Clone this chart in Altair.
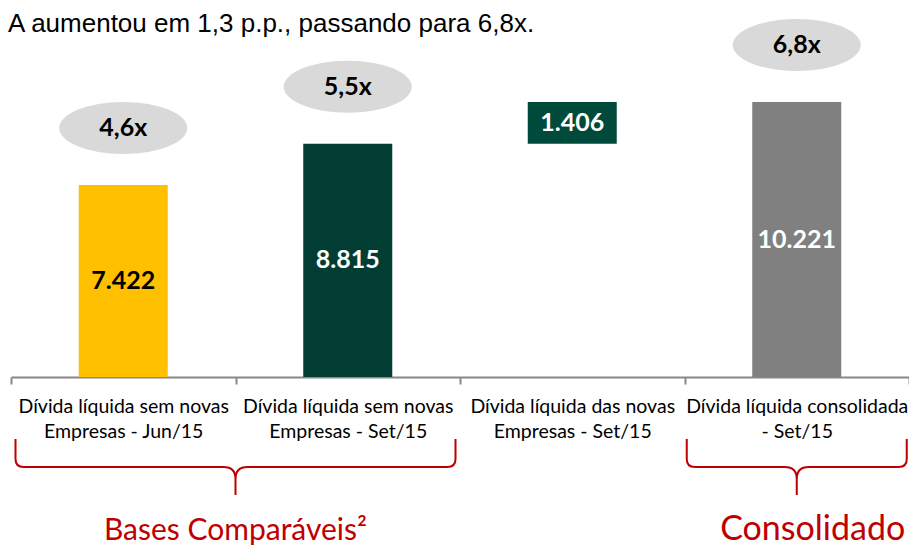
import altair as alt
import pandas as pd

# ---- data ----
categories = [
    "Dívida líquida sem novas|Empresas - Jun/15",
    "Dívida líquida sem novas|Empresas - Set/15",
    "Dívida líquida das novas|Empresas - Set/15",
    "Dívida líquida consolidada|- Set/15",
]
bar_start = [0, 0, 8815, 0]
bar_end = [7422, 8815, 10221, 10221]
value_labels = ["7.422", "8.815", "1.406", "10.221"]
ratio_labels = ["4,6x", "5,5x", "", "6,8x"]
headline = "A aumentou em 1,3 p.p., passando para 6,8x."
group_labels = ["Bases Comparáveis²", "Consolidado"]

# ---- layout / style ----
W, H = 898, 369
Y_MIN, Y_MAX = 947, 13392
bar_colors = ["#FFC000", "#013D33", "#004A3B", "#808080"]
RED = "#C00000"
FONT = "Lato"

df = pd.DataFrame({
    "cat": categories,
    "start": bar_start,
    "end": bar_end,
    "value": value_labels,
    "ratio": ratio_labels,
})

xscale = alt.Scale(domain=categories, paddingInner=0, paddingOuter=0)
x_axis = alt.Axis(
    title=None, labelAngle=0, labelFont=FONT, labelFontSize=19.5, labelColor="#000000",
    labelLineHeight=25, labelPadding=13, labelExpr="split(datum.label, '|')",
    labelOverlap=False, labelBound=False, labelFlush=False, labelLimit=400,
    domainColor="#878787", domainWidth=2, tickColor="#878787", tickWidth=2,
    tickSize=7, tickBand="extent", grid=False,
)
x_enc = alt.X("cat:N", scale=xscale, sort=categories, axis=x_axis)
yscale = alt.Scale(domain=[Y_MIN, Y_MAX], zero=False, nice=False)

base = alt.Chart(df)

bars = base.mark_bar(size=89, clip=True).encode(
    x=x_enc,
    y=alt.Y("start:Q", scale=yscale, axis=None),
    y2="end:Q",
    color=alt.Color("cat:N", scale=alt.Scale(domain=categories, range=bar_colors), legend=None),
)

value_text = base.transform_calculate(
    mid=f"(max(datum.start, {Y_MIN}) + datum.end) / 2"
).mark_text(font=FONT, fontWeight="bold", fontSize=25, baseline="middle").encode(
    x=x_enc,
    y=alt.Y("mid:Q", scale=yscale, axis=None),
    text="value:N",
    color=alt.condition(alt.datum.cat == categories[0], alt.value("#000000"), alt.value("#FFFFFF")),
)

ellipse_path = ("M -1 0 C -1 -0.224 -0.552 -0.406 0 -0.406 C 0.552 -0.406 1 -0.224 1 0 "
                "C 1 0.224 0.552 0.406 0 0.406 C -0.552 0.406 -1 0.224 -1 0 Z")
ratio_base = base.transform_filter("datum.ratio != ''")
ellipses = ratio_base.mark_point(
    shape=ellipse_path, size=128 * 128, filled=True, color="#D9D9D9", opacity=1, yOffset=-57
).encode(x=x_enc, y=alt.Y("end:Q", scale=yscale, axis=None))

ratio_text = ratio_base.mark_text(
    font=FONT, fontWeight="bold", fontSize=25, baseline="middle", color="#000000", yOffset=-57
).encode(x=x_enc, y=alt.Y("end:Q", scale=yscale, axis=None), text="ratio:N")

# curly braces (custom symbol paths, centred on the tip)
brace_wide = ("M -1 -0.1273 L -1 -0.0364 Q -1 0 -0.9636 0 L -0.0545 0 Q 0 0 0 0.0545 L 0 0.1273 "
              "M 0 0.0545 Q 0 0 0.0545 0 L 0.9636 0 Q 1 0 1 -0.0364 L 1 -0.1273")
brace_narrow = ("M -1 -0.2545 L -1 -0.0727 Q -1 0 -0.927 0 L -0.109 0 Q 0 0 0 0.109 L 0 0.2545 "
                "M 0 0.109 Q 0 0 0.109 0 L 0.927 0 Q 1 0 1 -0.0727 L 1 -0.2545")

left_group = alt.Chart(pd.DataFrame({"cat": [categories[1]], "label": [group_labels[0]]}))
right_group = alt.Chart(pd.DataFrame({"cat": [categories[3]], "label": [group_labels[1]]}))
x_start = alt.X("cat:N", scale=xscale, sort=categories, axis=x_axis, bandPosition=0)

brace_left = left_group.mark_point(
    shape=brace_wide, size=440 * 440, filled=False, stroke=RED, strokeWidth=2, opacity=1
).encode(x=x_start, y=alt.value(459))
brace_right = right_group.mark_point(
    shape=brace_narrow, size=220 * 220, filled=False, stroke=RED, strokeWidth=2, opacity=1
).encode(x=x_enc, y=alt.value(459))

group_left_text = left_group.mark_text(
    font=FONT, fontSize=30, color=RED, baseline="alphabetic", align="center"
).encode(x=x_start, y=alt.value(532), text="label:N")
group_right_text = right_group.mark_text(
    font=FONT, fontSize=34, color=RED, baseline="alphabetic", align="center", dx=16
).encode(x=x_enc, y=alt.value(532), text="label:N")

head = alt.Chart(pd.DataFrame({"t": [headline]})).mark_text(
    font="Liberation Sans", fontSize=26, color="#000000", align="left", baseline="alphabetic"
).encode(x=alt.value(-3), y=alt.value(24), text="t:N")

chart = alt.layer(
    bars, value_text, ellipses, ratio_text, brace_left, brace_right,
    group_left_text, group_right_text, head,
).properties(
    width=W, height=H,
    padding={"left": 3, "top": 0, "right": 0, "bottom": 170},
    autosize=alt.AutoSizeParams(type="none"),
    background="#FFFFFF",
).configure_view(stroke=None)

chart.save("out.html", embed_options={"renderer": "svg", "actions": False})
